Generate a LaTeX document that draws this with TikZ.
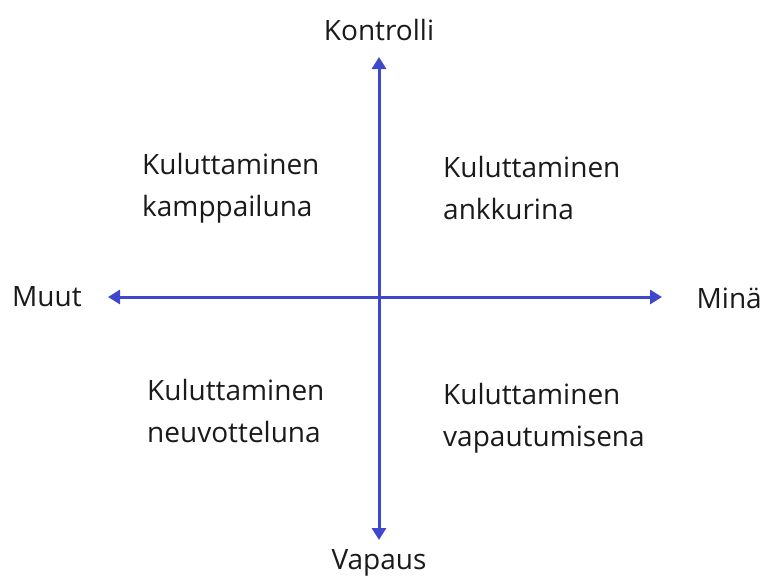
\documentclass[tikz,border=0pt]{standalone}
\usepackage{fontspec}
\setmainfont{Open Sans}
\usepackage{xcolor}
\definecolor{cAxis}{HTML}{3F48CC}
\definecolor{cText}{HTML}{1A1A1A}
\usetikzlibrary{positioning,arrows.meta}
\tikzset{
  node-label/.style={font=\fontsize{28}{32}\selectfont,text=cText,inner sep=0pt},
  node-quad/.style={node-label,align=left,anchor=north west,
    font=\fontsize{28}{42}\selectfont},
  arrow-axis/.style={{Triangle[width=14pt,length=12pt]}-{Triangle[width=14pt,length=12pt]},
    line width=3pt,draw=cAxis},
}
\begin{document}
\begin{tikzpicture}[x=1pt,y=-1pt]
  \useasboundingbox (0,0) rectangle (766,576);
  % akselit
  \coordinate (top) at (379,57);
  \coordinate (bottom) at (379,540);
  \coordinate (left) at (108,297);
  \coordinate (right) at (662,297);
  \draw[arrow-axis] (bottom) -- (top);
  \draw[arrow-axis] (left) -- (right);
  % akselien nimet
  \node[node-label] (kontrolli) at (379,30) {Kontrolli};
  \node[node-label] (vapaus) at (379,563) {Vapaus};
  \node[node-label,anchor=west] (muut) at (12,297) {Muut};
  \node[node-label,anchor=east] (mina) at (762,298) {Minä};
  % nelikentät
  \node[node-quad] (kamppailu) at (142,153) {Kuluttaminen\\kamppailuna};
  \node[node-quad] (ankkuri) at (443,156) {Kuluttaminen\\ankkurina};
  \node[node-quad] (neuvottelu) at (147,379) {Kuluttaminen\\neuvotteluna};
  \node[node-quad] (vapautuminen) at (443,383) {Kuluttaminen\\vapautumisena};
\end{tikzpicture}
\end{document}
